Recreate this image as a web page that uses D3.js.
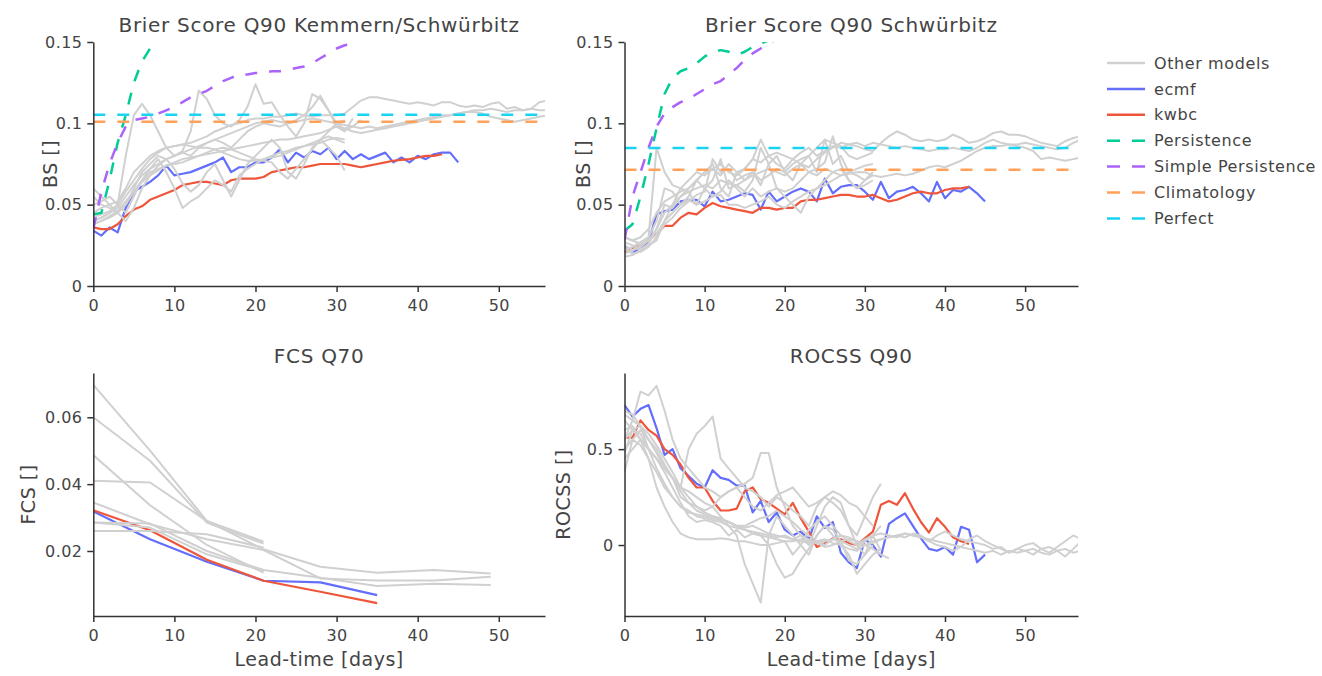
<!DOCTYPE html>
<html><head><meta charset="utf-8">
<script src="https://cdn.jsdelivr.net/npm/d3@7"></script>
<style>
body{margin:0;background:#fff}
text{font-family:"DejaVu Sans",Verdana,sans-serif;fill:#444}
</style></head>
<body><svg id="c" width="1322" height="676"></svg>
<script>
// ---------- DATA ----------
const seriesNames = ["Other models","ecmf","kwbc","Persistence","Simple Persistence","Climatology","Perfect"];
const xTicks = [0,10,20,30,40,50];
const titles = ["Brier Score Q90 Kemmern/Schwürbitz","Brier Score Q90 Schwürbitz","FCS Q70","ROCSS Q90"];
const yTitles = ["BS []","BS []","FCS []","ROCSS []"];
const xTitle = "Lead-time [days]";
const yTicksBS = [0,0.05,0.1,0.15];
const yTickLabelsBS = ["0","0.05","0.1","0.15"];
const yTicksFCS = [0.02,0.04,0.06];
const yTickLabelsFCS = ["0.02","0.04","0.06"];
const yTicksROC = [0,0.5];
const yTickLabelsROC = ["0","0.5"];
const fcsLead = [0,7,14,21,28,35,42,49];

// Brier Score Kemmern/Schwürbitz (daily lead times from 0)
const bs1Ecmf = [0.034,0.031,0.036,0.033,0.048,0.058,0.061,0.064,0.068,0.074,0.068,0.069,0.070,0.072,0.074,0.076,0.079,0.070,0.073,0.073,0.076,0.076,0.079,0.084,0.076,0.082,0.079,0.083,0.081,0.085,0.078,0.083,0.078,0.081,0.078,0.080,0.082,0.076,0.079,0.076,0.080,0.078,0.081,0.082,0.082,0.076];
const bs1Kwbc = [0.036,0.035,0.035,0.038,0.043,0.047,0.049,0.053,0.055,0.057,0.059,0.062,0.063,0.064,0.064,0.063,0.062,0.065,0.066,0.066,0.066,0.067,0.070,0.071,0.072,0.073,0.073,0.074,0.075,0.075,0.075,0.075,0.074,0.073,0.074,0.075,0.076,0.077,0.0775,0.078,0.079,0.080,0.080,0.081];
const bs1Persist = [0.044,0.045,0.065,0.088,0.105,0.125,0.138,0.146,0.151,0.158,0.162];
const bs1SimplePersist = [0.035,0.058,0.075,0.088,0.098,0.102,0.103,0.104,0.106,0.108,0.110,0.113,0.116,0.118,0.120,0.123,0.126,0.128,0.130,0.130,0.131,0.131,0.132,0.132,0.133,0.134,0.135,0.137,0.140,0.143,0.146,0.148,0.149,0.152];
const bs1Clim = 0.101;
const bs1Perfect = 0.1053;
const bs1Other = [
 [0.045,0.048,0.050,0.052,0.060,0.070,0.075,0.080,0.083,0.085,0.086,0.087,0.088,0.090,0.092,0.095,0.097,0.099,0.100,0.102,0.103,0.103,0.104,0.104,0.105,0.106,0.105,0.104,0.105,0.105,0.105,0.106,0.110,0.114,0.116,0.116,0.115,0.114,0.113,0.112,0.113,0.112,0.111,0.113,0.113,0.111,0.110,0.111,0.110,0.112,0.113,0.109,0.110,0.108,0.109,0.113,0.114],
 [0.040,0.042,0.045,0.048,0.055,0.062,0.068,0.072,0.075,0.078,0.080,0.082,0.084,0.086,0.088,0.090,0.092,0.094,0.096,0.098,0.100,0.101,0.102,0.101,0.100,0.101,0.102,0.103,0.102,0.101,0.100,0.099,0.098,0.097,0.098,0.097,0.098,0.099,0.100,0.101,0.102,0.103,0.104,0.105,0.105,0.106,0.107,0.108,0.108,0.109,0.108,0.107,0.108,0.108,0.109,0.108,0.108],
 [0.038,0.040,0.043,0.046,0.052,0.058,0.064,0.068,0.071,0.074,0.076,0.078,0.079,0.080,0.081,0.082,0.083,0.084,0.085,0.086,0.087,0.088,0.089,0.090,0.090,0.091,0.092,0.093,0.094,0.096,0.098,0.097,0.095,0.094,0.095,0.096,0.097,0.098,0.099,0.100,0.101,0.102,0.103,0.104,0.105,0.106,0.107,0.107,0.106,0.104,0.103,0.102,0.101,0.102,0.103,0.104,0.105],
 [0.040,0.042,0.045,0.050,0.080,0.105,0.112,0.105,0.095,0.085,0.080,0.083,0.095,0.120,0.115,0.105,0.100,0.098,0.102,0.110,0.124,0.112,0.113,0.105,0.098,0.092,0.100,0.118,0.115,0.108,0.098,0.095,0.103],
 [0.055,0.050,0.048,0.045,0.050,0.060,0.070,0.075,0.080,0.078,0.072,0.063,0.058,0.062,0.070,0.075,0.065,0.055,0.065,0.075,0.080,0.085,0.090,0.085,0.070,0.066,0.075,0.085,0.090,0.085,0.080,0.071],
 [0.042,0.044,0.046,0.050,0.058,0.065,0.072,0.078,0.082,0.085,0.086,0.087,0.086,0.085,0.085,0.084,0.082,0.080,0.078,0.077,0.077,0.078,0.079,0.080,0.082,0.084,0.086,0.088,0.090,0.092,0.090,0.088],
 [0.038,0.040,0.042,0.045,0.050,0.058,0.065,0.070,0.072,0.074,0.075,0.076,0.078,0.080,0.082,0.084,0.085,0.084,0.082,0.080,0.078,0.077,0.076,0.070,0.066,0.072,0.078,0.084,0.090,0.095,0.100,0.102],
 [0.050,0.052,0.055,0.050,0.045,0.055,0.065,0.072,0.078,0.070,0.060,0.048,0.052,0.055,0.060,0.065,0.062,0.058,0.068,0.072,0.075,0.078,0.080,0.082,0.083,0.085,0.086,0.087,0.088,0.090,0.091,0.090],
 [0.060,0.055,0.050,0.045,0.040,0.048,0.060,0.068,0.074,0.078,0.080,0.082,0.080,0.085,0.088,0.090,0.088,0.085,0.090,0.095,0.098,0.100,0.099,0.098,0.100,0.102,0.105,0.110,0.117,0.108,0.100,0.096,0.098,0.102]
];

// Brier Score Schwürbitz
const bs2Ecmf = [0.025,0.020,0.024,0.027,0.044,0.046,0.047,0.052,0.053,0.053,0.049,0.058,0.052,0.053,0.055,0.057,0.056,0.047,0.058,0.052,0.055,0.058,0.060,0.058,0.052,0.066,0.057,0.061,0.062,0.062,0.058,0.053,0.064,0.054,0.058,0.059,0.061,0.057,0.052,0.064,0.054,0.059,0.058,0.061,0.057,0.052];
const bs2Kwbc = [0.021,0.023,0.025,0.028,0.032,0.037,0.037,0.042,0.045,0.044,0.048,0.051,0.049,0.048,0.047,0.046,0.045,0.048,0.048,0.047,0.048,0.048,0.052,0.053,0.053,0.054,0.055,0.056,0.056,0.055,0.055,0.056,0.054,0.052,0.053,0.055,0.057,0.058,0.057,0.057,0.059,0.060,0.060,0.061];
const bs2Persist = [0.034,0.038,0.055,0.075,0.097,0.118,0.128,0.132,0.134,0.137,0.141,0.144,0.145,0.144,0.142,0.144,0.147,0.149,0.151,0.154];
const bs2SimplePersist = [0.028,0.055,0.070,0.085,0.098,0.106,0.110,0.113,0.115,0.118,0.121,0.124,0.126,0.130,0.134,0.139,0.143,0.146,0.149,0.152];
const bs2Clim = 0.0714;
const bs2Perfect = 0.0848;
const bs2Other = [
 [0.022,0.024,0.027,0.030,0.085,0.070,0.062,0.060,0.065,0.070,0.068,0.072,0.075,0.070,0.068,0.072,0.078,0.090,0.080,0.075,0.072,0.078,0.075,0.073,0.078,0.082,0.085,0.088,0.087,0.086,0.084,0.083,0.088,0.092,0.095,0.093,0.090,0.089,0.090,0.089,0.090,0.093,0.091,0.088,0.089,0.091,0.094,0.095,0.093,0.093,0.092,0.090,0.088,0.087,0.086,0.089,0.091,0.092],
 [0.025,0.022,0.024,0.028,0.035,0.045,0.050,0.055,0.058,0.060,0.062,0.060,0.065,0.063,0.062,0.065,0.068,0.070,0.072,0.070,0.068,0.072,0.075,0.070,0.068,0.072,0.070,0.068,0.069,0.070,0.070,0.068,0.067,0.068,0.069,0.068,0.069,0.071,0.073,0.074,0.073,0.075,0.077,0.080,0.083,0.085,0.086,0.086,0.087,0.086,0.085,0.083,0.078,0.079,0.078,0.077,0.078,0.079],
 [0.030,0.028,0.030,0.035,0.045,0.052,0.055,0.058,0.060,0.065,0.070,0.072,0.068,0.075,0.070,0.072,0.078,0.076,0.080,0.082,0.080,0.078,0.082,0.085,0.080,0.083,0.086,0.085,0.087,0.088,0.086,0.088,0.087,0.086,0.085,0.086,0.085,0.084,0.083,0.084,0.084,0.085,0.084,0.083,0.085,0.088,0.090,0.088,0.087,0.087,0.088,0.087,0.086,0.085,0.084,0.085,0.088,0.090],
 [0.020,0.022,0.025,0.030,0.040,0.060,0.058,0.050,0.055,0.065,0.070,0.075,0.060,0.055,0.070,0.065,0.070,0.062,0.075,0.080,0.070,0.065,0.075,0.080,0.070,0.090,0.075,0.080,0.070,0.068,0.065,0.070],
 [0.018,0.019,0.022,0.025,0.028,0.040,0.050,0.060,0.058,0.050,0.060,0.065,0.078,0.060,0.062,0.058,0.065,0.085,0.075,0.060,0.058,0.060,0.065,0.070,0.072,0.076,0.092,0.075,0.065,0.060,0.062,0.065],
 [0.027,0.025,0.022,0.026,0.035,0.050,0.048,0.055,0.060,0.065,0.060,0.055,0.058,0.065,0.060,0.055,0.060,0.055,0.058,0.060,0.055,0.050,0.045,0.055,0.060,0.065,0.070,0.072,0.065,0.060,0.065,0.068],
 [0.023,0.020,0.021,0.024,0.030,0.038,0.042,0.048,0.052,0.056,0.058,0.078,0.070,0.072,0.065,0.068,0.070,0.065,0.068,0.072,0.070,0.075,0.078,0.080,0.085,0.090,0.088,0.086,0.080,0.078,0.080,0.082],
 [0.030,0.028,0.026,0.028,0.032,0.040,0.045,0.050,0.053,0.050,0.052,0.055,0.056,0.050,0.050,0.048,0.050,0.052,0.055,0.050,0.048,0.052,0.055,0.058,0.060,0.062,0.065,0.068,0.070,0.072,0.074,0.075]
];

// FCS Q70 (weekly lead times)
const fcsEcmf = [0.0318,0.0235,0.0168,0.0111,0.0106,0.0068];
const fcsKwbc = [0.0322,0.0262,0.0174,0.0111,0.0078,0.0044];
const fcsOther = [
 [0.0697,0.0500,0.0290,0.0228],
 [0.0600,0.0470,0.0285,0.0222],
 [0.0487,0.0337,0.0218,0.0135],
 [0.0410,0.0405,0.0290,0.0205,0.0153,0.0135,0.0143,0.0133],
 [0.0345,0.0280,0.0235,0.0203,0.0118,0.0112,0.0112,0.0123],
 [0.0285,0.0282,0.0200,0.0143,0.0120,0.0095,0.0102,0.0098],
 [0.0260,0.0260,0.0250,0.0210],
 [0.0285,0.0270,0.0190,0.0140]
];

// ROCSS Q90 (daily lead times from 0)
const rocEcmf = [0.73,0.67,0.71,0.73,0.61,0.47,0.50,0.40,0.36,0.32,0.30,0.39,0.35,0.34,0.31,0.31,0.17,0.23,0.12,0.17,0.08,0.05,0.07,0.03,0.15,0.09,0.12,-0.04,-0.09,-0.12,0.03,0.00,-0.06,0.11,0.14,0.165,0.10,0.035,-0.02,-0.03,-0.01,-0.05,0.095,0.08,-0.09,-0.05];
const rocKwbc = [0.56,0.56,0.65,0.60,0.57,0.50,0.47,0.42,0.35,0.30,0.30,0.23,0.18,0.18,0.19,0.28,0.30,0.24,0.22,0.19,0.16,0.22,0.14,0.07,-0.01,0.01,0.035,0.03,0.01,0.00,0.035,0.07,0.21,0.23,0.21,0.27,0.19,0.12,0.065,0.14,0.095,0.04,0.02,0.005];
const rocOther = [
 [0.55,0.65,0.80,0.78,0.83,0.70,0.55,0.45,0.40,0.35,0.30,0.28,0.25,0.28,0.30,0.25,0.20,0.18,0.22,0.26,0.28,0.30,0.25,0.20,0.22,0.25,0.28,0.26,0.22,0.20,0.15,0.10],
 [0.60,0.62,0.55,0.50,0.45,0.40,0.35,0.30,0.50,0.58,0.62,0.67,0.45,0.40,0.35,0.30,0.28,0.25,0.20,0.25,0.22,0.18,0.15,0.10,0.20,0.25,0.22,0.18,0.10,0.05,0.15,0.25,0.32],
 [0.65,0.60,0.55,0.50,0.45,0.40,0.35,0.30,0.28,0.25,0.22,0.20,0.15,0.10,0.05,-0.10,-0.20,-0.30,0.05,0.15,0.10,0.05,0.00,-0.05,0.05,0.10,0.08,0.02,-0.08,-0.10,-0.05,0.00],
 [0.50,0.55,0.60,0.55,0.48,0.40,0.35,0.25,0.22,0.20,0.18,0.20,0.25,0.28,0.30,0.32,0.35,0.48,0.48,0.30,0.20,0.10,0.05,0.00,0.10,0.20,0.25,0.22,0.10,0.00,-0.05,0.05,0.10],
 [0.45,0.50,0.55,0.45,0.30,0.20,0.12,0.06,0.04,0.03,0.03,0.03,0.035,0.03,0.02,0.02,0.01,0.00,0.00,0.01,0.02,0.02,0.03,0.02,0.01,0.02,0.03,0.02,0.00,-0.02,0.02,0.05,0.06,0.05,0.04,0.06,0.05,0.04,0.02,0.05,0.07,0.05,0.03,0.02,0.01,0.00,-0.02,-0.01,-0.04,-0.02,0.00,0.01,-0.02,-0.04,-0.01,0.02,0.05,0.03],
 [0.70,0.68,0.62,0.55,0.50,0.42,0.35,0.28,0.22,0.18,0.16,0.15,0.14,0.12,0.10,0.08,0.06,0.05,0.00,-0.10,-0.17,-0.15,-0.08,-0.02,0.05,0.10,0.05,0.00,-0.05,-0.15,-0.10,-0.05,-0.02],
 [0.38,0.55,0.52,0.45,0.38,0.30,0.25,0.20,0.18,0.15,0.14,0.13,0.12,0.10,0.09,0.08,0.07,0.06,0.05,0.04,0.05,0.03,0.02,0.01,0.02,0.03,0.01,0.00,-0.02,-0.03,0.00,0.02,0.03,0.04,0.05,0.06,0.05,0.04,0.03,0.02,0.01,0.00,-0.01,-0.02,-0.03,-0.04,-0.03,-0.05,-0.03,-0.04,-0.03,-0.02,-0.04,-0.05,-0.03,-0.02,-0.04,-0.03],
 [0.55,0.60,0.58,0.50,0.40,0.32,0.25,0.20,0.17,0.16,0.15,0.14,0.13,0.12,0.10,0.09,0.10,0.08,0.06,0.05,0.04,0.03,0.05,0.03,0.01,-0.01,0.00,0.02,0.03,0.02,0.00,0.01,0.03,0.04,0.05,0.04,0.06,0.05,0.02,0.00,-0.01,-0.03,-0.01,0.03,0.05,0.02,0.00,-0.02,-0.04,-0.02,-0.03,-0.05,-0.02,-0.01,-0.03,-0.06,-0.02,0.02],
 [0.68,0.65,0.62,0.58,0.52,0.45,0.38,0.30,0.25,0.20,0.17,0.15,0.13,0.12,0.10,0.10,0.12,0.14,0.15,0.18,0.15,0.12,0.08,0.05,0.02,0.00,0.03,0.05,0.04,0.02,0.00,-0.02,-0.05,-0.07],
 [0.48,0.60,0.62,0.50,0.45,0.38,0.30,0.22,0.15,0.12,0.13,0.12,0.10,0.05,0.08,0.04,0.06,0.05,0.04,0.03,0.02,-0.05,0.00,0.08,0.12,0.15,0.10,0.05,0.02,0.00,0.03,0.05,-0.03]
];

// ---------- STYLE ----------
const C = {grey:"#d0d0d0", ecmf:"#636efa", kwbc:"#ef553b", pers:"#00cc96", spers:"#ab63fa", clim:"#ffa15a", perf:"#19d3f3"};
const legendColors = [C.grey,C.ecmf,C.kwbc,C.pers,C.spers,C.clim,C.perf];
const legendDashed = [false,false,false,true,true,true,true];
const DASH = "12,12";

const svg = d3.select("#c");
let clipN = 0;

function panel(cfg){
  const x = d3.scaleLinear().domain(cfg.xd).range([cfg.l, cfg.r]);
  const y = d3.scaleLinear().domain(cfg.yd).range([cfg.b, cfg.t]);
  const id = "clip"+(clipN++);
  svg.append("clipPath").attr("id",id).append("rect")
    .attr("x",cfg.l).attr("y",cfg.t).attr("width",cfg.r-cfg.l).attr("height",cfg.b-cfg.t);
  const g = svg.append("g").attr("clip-path","url(#"+id+")");
  const lead = cfg.lead || null;
  const line = d3.line().x((v,i)=>x(lead ? lead[i] : i)).y(v=>y(v));
  const draw = (arr,color,w,dash)=>{
    const p = g.append("path").attr("d",line(arr)).attr("fill","none")
      .attr("stroke",color).attr("stroke-width",w).attr("stroke-linejoin","round");
    if(dash) p.attr("stroke-dasharray",dash);
  };
  draw(cfg.ecmf,C.ecmf,2.2);
  draw(cfg.kwbc,C.kwbc,2.2);
  cfg.other.forEach(a=>draw(a,C.grey,2));
  if(cfg.pers) draw(cfg.pers,C.pers,2.5,DASH);
  if(cfg.spers) draw(cfg.spers,C.spers,2.5,DASH);
  const hline=(v,color)=>{
    g.append("line").attr("x1",x(cfg.xd[0])).attr("x2",x(cfg.xd[1]))
      .attr("y1",y(v)).attr("y2",y(v)).attr("stroke",color).attr("stroke-width",2.5)
      .attr("stroke-dasharray",DASH);
  };
  if(cfg.clim!==undefined) hline(cfg.clim,C.clim);
  if(cfg.perf!==undefined) hline(cfg.perf,C.perf);

  // axes
  const ax = svg.append("g").attr("transform","translate(0,"+cfg.b+")")
    .call(d3.axisBottom(x).tickValues(xTicks).tickFormat(d3.format("d")).tickSize(6).tickSizeOuter(0).tickPadding(8));
  const ay = svg.append("g").attr("transform","translate("+cfg.l+",0)")
    .call(d3.axisLeft(y).tickValues(cfg.yt).tickFormat((d,i)=>cfg.ytl[i]).tickSize(6).tickSizeOuter(0).tickPadding(5));
  [ax,ay].forEach(a=>{
    a.attr("font-size",null).attr("font-family",null);
    a.selectAll("path,line").attr("stroke","#333").attr("stroke-width",1.5);
    a.selectAll("text").attr("fill","#444").style("font-size","16px").style("letter-spacing","0.4px");
  });
  const cx = (cfg.l+cfg.r)/2;
  svg.append("text").attr("x",cx).attr("y",cfg.titleY).attr("text-anchor","middle")
    .style("font-size","20px").style("letter-spacing","0.7px").text(cfg.title);
  svg.append("text").attr("transform","translate("+cfg.ytx+","+((cfg.t+cfg.b)/2)+") rotate(-90)")
    .attr("text-anchor","middle").attr("dy","0.35em")
    .style("font-size","19px").style("letter-spacing","0.5px").text(cfg.ytitle);
  if(cfg.xtitle){
    svg.append("text").attr("x",cx).attr("y",666).attr("text-anchor","middle")
      .style("font-size","19px").style("letter-spacing","0.5px").text(xTitle);
  }
}

const L = {l:93.3, r:545}, R = {l:624.5, r:1078};
const TOP = {t:42, b:286}, BOT = {t:373, b:616};

panel({...L,...TOP, xd:[0,55.7], yd:[0,0.15], yt:yTicksBS, ytl:yTickLabelsBS,
  ecmf:bs1Ecmf, kwbc:bs1Kwbc, other:bs1Other, pers:bs1Persist, spers:bs1SimplePersist,
  clim:bs1Clim, perf:bs1Perfect, title:titles[0], titleY:32, ytitle:yTitles[0], ytx:50});
panel({...R,...TOP, xd:[0,56.6], yd:[0,0.15], yt:yTicksBS, ytl:yTickLabelsBS,
  ecmf:bs2Ecmf, kwbc:bs2Kwbc, other:bs2Other, pers:bs2Persist, spers:bs2SimplePersist,
  clim:bs2Clim, perf:bs2Perfect, title:titles[1], titleY:32, ytitle:yTitles[1], ytx:583});
panel({...L,...BOT, xd:[0,55.7], yd:[0.00055,0.07325], yt:yTicksFCS, ytl:yTickLabelsFCS, lead:fcsLead,
  ecmf:fcsEcmf, kwbc:fcsKwbc, other:fcsOther, title:titles[2], titleY:363, ytitle:yTitles[2], ytx:28, xtitle:true});
panel({...R,...BOT, xd:[0,56.6], yd:[-0.37,0.897], yt:yTicksROC, ytl:yTickLabelsROC,
  ecmf:rocEcmf, kwbc:rocKwbc, other:rocOther, title:titles[3], titleY:363, ytitle:yTitles[3], ytx:563, xtitle:true});

// legend
const lg = svg.append("g");
seriesNames.forEach((n,i)=>{
  const yy = 63 + i*25.9;
  const ln = lg.append("line").attr("x1",1107).attr("x2",1145).attr("y1",yy).attr("y2",yy)
    .attr("stroke",legendColors[i]).attr("stroke-width",2.5);
  if(legendDashed[i]) ln.attr("stroke-dasharray","13,12");
  lg.append("text").attr("x",1154).attr("y",yy).attr("dy","0.35em")
    .style("font-size","16px").style("letter-spacing","0.6px").text(n);
});
</script></body></html>
